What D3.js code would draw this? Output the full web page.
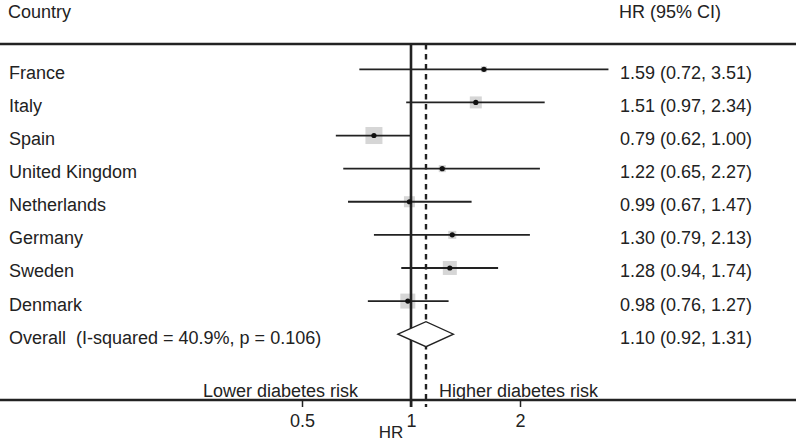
<!DOCTYPE html>
<html>
<head>
<meta charset="utf-8">
<script src="https://cdn.jsdelivr.net/npm/d3@7"></script>
<style>
  html, body { margin: 0; padding: 0; background: #fff; }
  svg { display: block; }
  text { font-family: "Liberation Sans", Arial, Helvetica, sans-serif; fill: #222; white-space: pre; }
</style>
</head>
<body>
<svg id="chart" width="796" height="443"></svg>
<script>
// ---- data ----
const countries = ["France", "Italy", "Spain", "United Kingdom", "Netherlands", "Germany", "Sweden", "Denmark"];
const hr    = [1.59, 1.51, 0.79, 1.22, 0.99, 1.30, 1.28, 0.98];
const lower = [0.72, 0.97, 0.62, 0.65, 0.67, 0.79, 0.94, 0.76];
const upper = [3.51, 2.34, 1.00, 2.27, 1.47, 2.13, 1.74, 1.27];
const weights = [3.2, 12.8, 25.7, 4.4, 10.8, 5.7, 17.4, 20.0];
const overallLabel = "Overall  (I-squared = 40.9%, p = 0.106)";
const overall = { hr: 1.10, lower: 0.92, upper: 1.31 };
const tickValues = [0.5, 1, 2];
const tickLabels = ["0.5", "1", "2"];

const fmt = d3.format(".2f");

const svg = d3.select("#chart");
const W = 796, H = 443;

const x = d3.scaleLog().domain([0.5, 2]).range([302, 520]);
const y = d3.scaleLinear().domain([0, 8]).range([69.3, 334.2]);
const side = d3.scaleSqrt().domain([0, d3.max(weights)]).range([0, 17]);

const topY = 44, axisY = 400;
const fs = 18;

// header
svg.append("text").attr("x", 8).attr("y", 18).attr("font-size", fs).text("Country");
svg.append("text").attr("x", 619).attr("y", 18).attr("font-size", fs).text("HR (95% CI)");

// top rule
svg.append("line").attr("x1", 0).attr("x2", W).attr("y1", topY).attr("y2", topY)
  .attr("stroke", "#222").attr("stroke-width", 2.5);

const rows = countries.map((c, i) => ({ c, hr: hr[i], lo: lower[i], hi: upper[i], w: weights[i], i }));

// grey weight squares
svg.append("g").selectAll("rect").data(rows).join("rect")
  .attr("x", d => x(d.hr) - side(d.w) / 2)
  .attr("y", d => y(d.i) - side(d.w) / 2)
  .attr("width", d => side(d.w))
  .attr("height", d => side(d.w))
  .attr("fill", "#d6d6d6");

// CI lines
svg.append("g").selectAll("line").data(rows).join("line")
  .attr("x1", d => x(d.lo)).attr("x2", d => x(d.hi))
  .attr("y1", d => y(d.i)).attr("y2", d => y(d.i))
  .attr("stroke", "#222").attr("stroke-width", 1.8);

// null line (HR = 1)
svg.append("line").attr("x1", x(1)).attr("x2", x(1)).attr("y1", topY).attr("y2", axisY + 7)
  .attr("stroke", "#222").attr("stroke-width", 2.6);

// overall dashed line
svg.append("line").attr("x1", x(overall.hr)).attr("x2", x(overall.hr)).attr("y1", topY).attr("y2", axisY + 7)
  .attr("stroke", "#222").attr("stroke-width", 2.4).attr("stroke-dasharray", "5.5,4.5");

// point estimates
svg.append("g").selectAll("circle").data(rows).join("circle")
  .attr("cx", d => x(d.hr)).attr("cy", d => y(d.i)).attr("r", 2.6)
  .attr("fill", "#111");

// diamond
const oy = y(8);
svg.append("path")
  .attr("d", `M${x(overall.lower)},${oy} L${x(overall.hr)},${oy - 12.5} L${x(overall.upper)},${oy} L${x(overall.hr)},${oy + 12.5} Z`)
  .attr("fill", "#fff").attr("stroke", "#222").attr("stroke-width", 1.3);

// labels
const labelRows = rows.map(d => ({ left: d.c, right: `${fmt(d.hr)} (${fmt(d.lo)}, ${fmt(d.hi)})`, i: d.i }));
labelRows.push({ left: overallLabel, right: `${fmt(overall.hr)} (${fmt(overall.lower)}, ${fmt(overall.upper)})`, i: 8 });

svg.append("g").selectAll("text").data(labelRows).join("text")
  .attr("x", 9).attr("y", d => y(d.i) + 9.5).attr("font-size", fs).text(d => d.left);
svg.append("g").selectAll("text").data(labelRows).join("text")
  .attr("x", 620).attr("y", d => y(d.i) + 9.5).attr("font-size", fs).text(d => d.right);

// bottom axis
const axis = d3.axisBottom(x).tickValues(tickValues).tickFormat((d, i) => tickLabels[i]).tickSize(7).tickPadding(7);
const ag = svg.append("g").attr("transform", `translate(0,${axisY})`).call(axis);
ag.select(".domain").remove();
ag.selectAll(".tick line").attr("stroke", "#222").attr("stroke-width", 1.5);
ag.selectAll(".tick text").attr("font-size", fs).attr("fill", "#222")
  .attr("font-family", "'Liberation Sans', Arial, sans-serif");
svg.append("line").attr("x1", 0).attr("x2", W).attr("y1", axisY).attr("y2", axisY)
  .attr("stroke", "#222").attr("stroke-width", 2.5);

svg.append("text").attr("x", 358).attr("y", 397).attr("text-anchor", "end").attr("font-size", fs).text("Lower diabetes risk");
svg.append("text").attr("x", 439).attr("y", 397).attr("font-size", fs).text("Higher diabetes risk");
svg.append("text").attr("x", 391).attr("y", 438).attr("text-anchor", "middle").attr("font-size", 17).text("HR");
</script>
</body>
</html>
